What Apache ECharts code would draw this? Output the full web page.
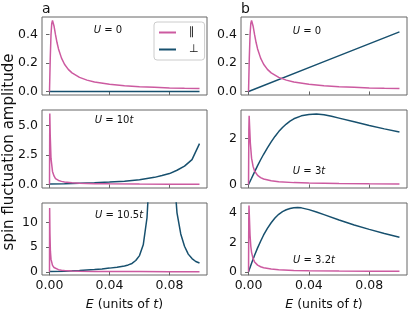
<!DOCTYPE html>
<html><head><meta charset="utf-8">
<script src="https://cdn.jsdelivr.net/npm/echarts@6/dist/echarts.min.js"></script>
<style>html,body{margin:0;padding:0;background:#fff}#c{width:415px;height:312px}</style>
</head><body><div id="c"></div>
<script>
// E (units of t), series values [E, amplitude]
const paraA1 = [[0,0],[0.0005,0.235],[0.001,0.40],[0.0015,0.48],[0.002,0.50],[0.003,0.462],[0.004,0.40],[0.005,0.345],[0.006,0.30],[0.008,0.235],[0.01,0.192],[0.0125,0.156],[0.015,0.131],[0.02,0.099],[0.025,0.080],[0.03,0.066],[0.04,0.050],[0.05,0.040],[0.06,0.033],[0.07,0.029],[0.08,0.025],[0.09,0.022],[0.1,0.020]];
const perpA1 = [[0,0],[0.05,0],[0.1,0]];
const paraA2 = [[0,0],[0.0002,6.0],[0.0005,4.1],[0.001,2.2],[0.002,1.1],[0.003,0.72],[0.004,0.50],[0.006,0.34],[0.008,0.26],[0.01,0.21],[0.015,0.14],[0.02,0.10],[0.03,0.07],[0.04,0.05],[0.06,0.035],[0.08,0.027],[0.1,0.022]];
const perpA2 = [[0,0.03],[0.01,0.06],[0.02,0.10],[0.03,0.14],[0.04,0.20],[0.05,0.28],[0.06,0.40],[0.07,0.60],[0.075,0.75],[0.08,0.92],[0.085,1.20],[0.09,1.55],[0.095,2.10],[0.1,3.45]];
const paraA3 = [[0,0],[0.0001,13.0],[0.0003,7.8],[0.0006,4.2],[0.001,2.57],[0.002,1.30],[0.003,0.87],[0.004,0.65],[0.006,0.43],[0.008,0.33],[0.01,0.26],[0.015,0.17],[0.02,0.13],[0.03,0.087],[0.04,0.065],[0.06,0.043],[0.08,0.033],[0.1,0.026]];
const perpA3 = [[0,0.05],[0.01,0.12],[0.02,0.25],[0.03,0.45],[0.035,0.58],[0.04,0.75],[0.045,0.95],[0.05,1.2],[0.0525,1.4],[0.055,1.7],[0.0575,2.3],[0.06,3.3],[0.0625,5.5],[0.065,11],[0.0675,25],[0.07,60],[0.0725,120],[0.075,150],[0.0775,100],[0.08,50],[0.0825,22],[0.085,12],[0.0875,7.7],[0.09,5.2],[0.0925,3.6],[0.095,2.7],[0.0975,2.1],[0.1,1.8]];
const paraB1 = [[0,0],[0.0005,0.235],[0.001,0.40],[0.0015,0.48],[0.002,0.50],[0.003,0.462],[0.004,0.40],[0.005,0.345],[0.006,0.30],[0.008,0.235],[0.01,0.192],[0.0125,0.156],[0.015,0.131],[0.02,0.099],[0.025,0.080],[0.03,0.066],[0.04,0.050],[0.05,0.040],[0.06,0.033],[0.07,0.029],[0.08,0.025],[0.09,0.022],[0.1,0.020]];
const perpB1 = [[0,0],[0.05,0.21],[0.1,0.42]];
const paraB2 = [[0,0],[0.0002,2.4],[0.0004,3.0],[0.0008,2.4],[0.0012,1.8],[0.002,1.15],[0.003,0.79],[0.004,0.59],[0.006,0.40],[0.008,0.30],[0.01,0.24],[0.015,0.16],[0.02,0.12],[0.03,0.08],[0.04,0.06],[0.06,0.04],[0.08,0.03],[0.1,0.024]];
const perpB2 = [[0,0],[0.002,0.27],[0.004,0.55],[0.006,0.82],[0.008,1.08],[0.01,1.32],[0.0125,1.60],[0.015,1.86],[0.0175,2.10],[0.02,2.31],[0.0225,2.49],[0.025,2.64],[0.0275,2.77],[0.03,2.87],[0.035,3.00],[0.04,3.06],[0.045,3.08],[0.05,3.05],[0.055,2.98],[0.06,2.90],[0.07,2.74],[0.08,2.58],[0.09,2.43],[0.1,2.29]];
const paraB3 = [[0,0],[0.00015,3.6],[0.0003,4.5],[0.0006,3.6],[0.001,2.48],[0.0015,1.73],[0.002,1.32],[0.003,0.89],[0.004,0.67],[0.006,0.45],[0.008,0.34],[0.01,0.27],[0.015,0.18],[0.02,0.135],[0.03,0.09],[0.04,0.068],[0.06,0.045],[0.08,0.034],[0.1,0.027]];
const perpB3 = [[0,0],[0.002,0.58],[0.004,1.12],[0.006,1.62],[0.008,2.07],[0.01,2.50],[0.0125,2.95],[0.015,3.33],[0.0175,3.65],[0.02,3.90],[0.0225,4.08],[0.025,4.21],[0.0275,4.30],[0.03,4.35],[0.0325,4.36],[0.035,4.34],[0.04,4.22],[0.045,4.06],[0.05,3.88],[0.06,3.52],[0.07,3.18],[0.08,2.88],[0.09,2.60],[0.1,2.35]];

const xTicks = [0, 0.04, 0.08];
const yTicks = [[0,0.2,0.4],[0,2.5,5.0],[0,5,10],[0,0.2,0.4],[0,2],[0,2,4]];
const yRanges = [[-0.025,0.525],[-0.3,6.3],[-0.65,14],[-0.025,0.525],[-0.155,3.255],[-0.22,4.67]];
const yDecimals = [1,1,0,1,0,0];
const uLabels = ['U = 0','U = 10t','U = 10.5t','U = 0','U = 3t','U = 3.2t'];
const panelLetters = ['a','b'];
const paraName = '∥', perpName = '⊥';

const PINK = '#cc5aa0', BLUE = '#17506e', FRAME = '#666';
const FONT = 'DejaVu Sans';
const paraData = [paraA1, paraA2, paraA3, paraB1, paraB2, paraB3];
const perpData = [perpA1, perpA2, perpA3, perpB1, perpB2, perpB3];

const colLeft = [42, 241], colW = [165, 166];
const rowTop = [17, 110, 203], rowH = 78;

const grids = [], xAxes = [], yAxes = [], series = [];
for (let i = 0; i < 6; i++) {
  const c = Math.floor(i / 3), r = i % 3;
  grids.push({left: colLeft[c], top: rowTop[r], width: colW[c], height: rowH,
    show: true, borderColor: FRAME, borderWidth: 1, backgroundColor: 'transparent'});
  xAxes.push({type: 'value', gridIndex: i, min: -0.005, max: 0.105,
    axisLine: {show: false}, splitLine: {show: false},
    axisTick: {show: true, length: 3.5, inside: false, customValues: xTicks, lineStyle: {color: FRAME}},
    axisLabel: {show: r === 2, customValues: xTicks, formatter: v => v.toFixed(2),
      fontFamily: FONT, fontSize: 12.5, color: '#111', margin: 4},
    name: r === 2 ? '{i|E} (units of {i|t})' : '', nameLocation: 'middle', nameGap: 23,
    nameTextStyle: {fontFamily: FONT, fontSize: 12.5, color: '#111',
      rich: {i: {fontStyle: 'italic', fontFamily: FONT, fontSize: 12.5, color: '#111'}}}
  });
  const dec = yDecimals[i];
  yAxes.push({type: 'value', gridIndex: i, min: yRanges[i][0], max: yRanges[i][1],
    axisLine: {show: false}, splitLine: {show: false},
    axisTick: {show: true, length: 3.5, inside: false, customValues: yTicks[i], lineStyle: {color: FRAME}},
    axisLabel: {customValues: yTicks[i], formatter: v => v.toFixed(dec),
      fontFamily: FONT, fontSize: 12.5, color: '#111', margin: 4}
  });
  series.push({type: 'line', name: paraName, xAxisIndex: i, yAxisIndex: i, data: paraData[i],
    showSymbol: false, symbol: 'none', clip: true, lineStyle: {color: PINK, width: 1.5}, itemStyle: {color: PINK}, z: 3});
  series.push({type: 'line', name: perpName, xAxisIndex: i, yAxisIndex: i, data: perpData[i],
    showSymbol: false, symbol: 'none', clip: true, lineStyle: {color: BLUE, width: 1.5}, itemStyle: {color: BLUE}, z: 2});
}

const uPos = [[108,30],[114,120],[119,215],[307,31],[309,171],[314,260]];
const graphics = [];
uLabels.forEach((t, i) => {
  const m = t.match(/^U = ([0-9.]+)(t?)$/);
  graphics.push({type: 'text', x: uPos[i][0], y: uPos[i][1], z: 10,
    style: {text: '{i|U} = ' + m[1] + (m[2] ? '{i|t}' : ''), font: '10px ' + FONT, fill: '#111',
      align: 'center', verticalAlign: 'middle',
      rich: {i: {fontStyle: 'italic', fontFamily: FONT, fontSize: 10, fill: '#111'}}}});
});
graphics.push({type: 'text', x: 42, y: 2, style: {text: panelLetters[0], font: '14px ' + FONT, fill: '#111'}});
graphics.push({type: 'text', x: 241, y: 2, style: {text: panelLetters[1], font: '14px ' + FONT, fill: '#111'}});
graphics.push({type: 'text', x: 9, y: 152, rotation: Math.PI / 2,
  style: {text: 'spin fluctuation amplitude', font: '15px ' + FONT, fill: '#111', align: 'center', verticalAlign: 'middle'}});

const chart = echarts.init(document.getElementById('c'), null, {renderer: 'canvas'});
chart.setOption({
  animation: false,
  backgroundColor: '#fff',
  grid: grids, xAxis: xAxes, yAxis: yAxes, series: series,
  legend: {show: true, orient: 'vertical', left: 154, top: 22, itemWidth: 17, itemHeight: 2, itemGap: 6,
    padding: [5, 6, 5, 5], borderColor: '#ccc', borderWidth: 1, borderRadius: 3, backgroundColor: 'rgba(255,255,255,0.8)',
    icon: 'rect', data: [paraName, perpName],
    textStyle: {fontFamily: FONT, fontSize: 11, color: '#111', padding: [0,0,0,8]}},
  graphic: graphics
});
</script></body></html>
